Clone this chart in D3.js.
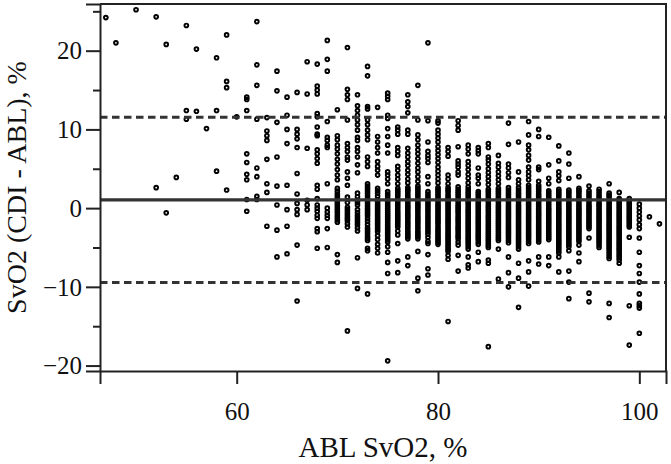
<!DOCTYPE html>
<html>
<head>
<meta charset="utf-8">
<script src="https://cdn.jsdelivr.net/npm/d3@7"></script>
<style>
  html, body { margin: 0; padding: 0; background: #fff; }
  svg { display: block; }
  text { font-family: "Liberation Serif", "Times New Roman", serif; fill: #111; }
</style>
</head>
<body>
<svg id="chart" width="671" height="464"></svg>
<script>
// ABL SvO2 columns (x, %) and the CDI - ABL differences observed at each
const ablColumns = [47,48,50,52,53,54,55,56,57,58,59,60,61,62,63,64,65,66,67,68,69,70,71,72,73,74,75,76,77,78,79,80,81,82,83,84,85,86,87,88,89,90,91,92,93,94,95,96,97,98,99,100,101,102];
const diffByColumn = [
  [24.2],
  [21.0],
  [25.2],
  [24.3, 2.6],
  [20.8, -0.6],
  [3.9],
  [23.2, 12.4, 11.3],
  [20.2, 12.3],
  [10.1],
  [19.1, 12.4, 4.7],
  [22.0, 16.1, 15.3, 2.3],
  [11.6],
  [14.1, 13.8, 12.4, 6.9, 5.8, 4.3, 3.6, 1.1, -0.4],
  [23.7, 18.2, 15.6, 11.3, 5.1, 4.0, 1.5, 1.1],
  [11.5, 9.8, 9.2, 8.6, 6.2, 3.1, 2.0, -2.3],
  [17.4, 14.9, 10.9, 6.5, 2.8, 0.4, -2.8, -6.2],
  [14.1, 11.8, 10.0, 8.2, 2.9, -0.2, -2.3, -5.8],
  [14.7, 10.0, 9.4, 8.8, 7.7, 4.4, 1.8, 0.6, -0.2, -0.8, -4.7, -11.8],
  [18.6, 14.5, 7.6, 1.0, 0.4, -0.2],
  [18.3, 15.5, 15.0, 14.5, 12.0, 11.6, 10.3, 9.4, 9.2, 7.4, 6.9, 6.3, 5.7, 2.9, 2.4, 1.2, 0.4, 0.0, -0.4, -0.9, -1.3, -2.6, -3.0, -5.1],
  [21.3, 18.9, 17.4, 11.0, 9.0, 8.6, 8.0, 7.7, 3.1, 0.0, -0.5, -0.9, -1.3, -2.6, -5.0],
  [12.5, 9.2, 8.7, 8.0, 7.5, 6.9, 6.2, 5.6, 4.9, 4.2, 3.6, 2.5, 1.8, 1.2, 0.6, 0.0, -0.6, -1.2, -1.8, -5.9, -6.9,
   2.15, 1.5, 0.9, 0.3, -0.3, -0.9, -1.5],
  [20.4, 15.1, 14.4, 13.8, 11.2, 8.2, 7.7, 7.2, 6.5, 6.1, 4.6, 3.8, 2.9, 1.4, 0.7, 0.1, -0.5, -1.1, -1.6, -2.4, -15.6,
   -0.2, -0.8, -1.35, -2.0],
  [14.4, 13.0, 12.4, 11.8, 11.2, 10.6, 9.9, 9.0, 8.6, 7.7, 7.2, 6.5, 5.5, 4.5, 1.9, 1.0, 0.4, -0.2, -0.9, -1.5, -2.1, -2.9, -6.3, -10.2,
   1.45, 0.7, -0.55, -1.2, -1.8, -2.5],
  [18.0, 16.8, 12.9, 12.6, 11.2, 10.6, 9.9, 9.3, 8.7, 6.5, 5.9, 5.3, 3.1, 2.5, 1.9, 1.2, 0.6, 0.0, -0.5, -1.0, -1.7, -2.5, -3.0, -3.6, -4.1, -5.1, -5.4, -10.9,
   2.8, 2.2, 1.55, 0.9, 0.3, -0.25, -0.75, -1.35, -2.1, -2.75, -3.3, -3.85],
  [12.8, 9.1, 8.4, 7.7, 7.0, 5.9, 5.3, 4.8, 4.2, 2.5, 1.9, 1.1, 0.5, 0.0, -0.5, -1.0, -1.5, -2.0, -2.5, -3.0, -4.6, -5.1, -5.7,
   2.2, 1.5, 0.8, 0.25, -0.25, -0.75, -1.25, -1.75, -2.25, -2.75, -3.5, -4.0],
  [14.6, 14.2, 13.8, 11.8, 11.4, 10.1, 9.1, 8.0, 7.0, 4.6, 4.2, 3.7, 3.1, 2.1, 1.5, 0.8, 0.2, -0.3, -0.8, -1.3, -1.8, -2.3, -2.8, -3.3, -3.8, -4.3, -4.9, -5.6, -6.9, -8.3, -19.4,
   1.8, 1.15, 0.5, -0.05, -0.55, -1.05, -1.55, -2.05, -2.55, -3.05, -3.55, -4.05],
  [10.3, 9.9, 9.4, 7.7, 7.2, 6.7, 5.3, 4.8, 4.2, 3.7, 3.1, 2.5, 2.0, 1.5, 0.8, 0.2, -0.4, -0.9, -1.4, -1.9, -2.4, -3.4, -4.5, -6.7, -8.2,
   2.25, 1.75, 1.15, 0.5, -0.1, -0.65, -1.15, -1.65, -2.15, -2.9],
  [14.4, 13.5, 12.9, 12.1, 9.9, 9.4, 7.6, 7.0, 6.5, 5.9, 5.4, 4.8, 4.3, 3.7, 3.2, 2.6, 2.1, 1.5, 1.0, 0.4, -0.1, -0.7, -1.2, -1.8, -2.3, -2.9, -3.4, -3.9, -6.2, -7.3,
   2.35, 1.8, 1.25, 0.7, 0.15, -0.4, -0.95, -1.5, -2.05, -2.6, -3.15, -3.65],
  [15.6, 11.2, 9.3, 8.7, 8.0, 7.4, 6.9, 6.3, 5.7, 5.1, 4.6, 4.0, 3.4, 2.8, 2.3, 1.7, 1.1, 0.5, 0.0, -0.6, -1.2, -1.7, -2.3, -2.9, -3.4, -3.9, -5.5, -8.9, -10.5,
   2.55, 2.0, 1.4, 0.8, 0.25, -0.3, -0.9, -1.45, -2.0, -2.6, -3.15, -3.65],
  [21.0, 11.1, 8.4, 7.2, 6.7, 6.3, 5.8, 4.0, 3.1, 2.1, 1.5, 0.9, 0.3, -0.3, -0.9, -1.5, -2.1, -2.7, -3.3, -4.2, -4.5, -5.9, -7.7, -8.5,
   1.8, 1.2, 0.6, 0.0, -0.6, -1.2, -1.8, -2.4, -3.0, -3.7],
  [11.1, 10.8, 9.9, 9.4, 8.9, 8.4, 7.8, 7.3, 6.8, 6.3, 5.8, 5.2, 4.7, 4.2, 3.7, 3.2, 2.6, 2.1, 1.6, 1.1, 0.5, 0.0, -0.5, -1.0, -1.5, -2.0, -2.6, -3.1, -3.6, -4.1, -4.6,
   2.35, 1.85, 1.35, 0.8, 0.25, -0.25, -0.75, -1.25, -1.75, -2.3, -2.85, -3.35, -3.85, -4.35],
  [7.7, 7.2, 6.6, 4.2, 3.7, 3.1, 2.6, 2.1, 1.5, 1.0, 0.5, 0.0, -0.5, -1.0, -1.5, -2.0, -2.5, -3.0, -3.5, -4.0, -4.5, -5.0, -5.5, -6.0, -6.5, -14.4,
   2.35, 1.8, 1.25, 0.75, 0.25, -0.25, -0.75, -1.25, -1.75, -2.25, -2.75, -3.25, -3.75, -4.25, -4.75, -5.25],
  [11.1, 10.5, 9.9, 7.8, 6.0, 5.6, 5.2, 4.6, 4.2, 2.7, 2.1, 1.6, 1.0, 0.4, -0.1, -0.6, -1.2, -1.7, -2.3, -2.8, -3.4, -3.9, -4.7, -6.0, -8.0,
   2.4, 1.85, 1.3, 0.7, 0.15, -0.35, -0.9, -1.45, -2.0, -2.55, -3.1, -3.65, -4.3],
  [8.0, 7.5, 6.9, 5.9, 5.4, 4.9, 4.3, 3.8, 3.2, 2.7, 2.1, 1.6, 1.0, 0.5, -0.1, -0.6, -1.1, -1.6, -2.1, -2.6, -3.1, -3.6, -4.1, -4.6, -5.2, -6.2, -7.2, -7.6,
   2.4, 1.85, 1.3, 0.75, 0.2, -0.35, -0.85, -1.35, -1.85, -2.35, -2.85, -3.35, -3.85, -4.35, -4.9],
  [7.7, 7.3, 6.9, 5.1, 4.2, 3.8, 3.1, 2.1, 1.6, 1.0, 0.5, 0.0, -0.5, -1.0, -1.5, -2.0, -2.5, -3.0, -3.5, -4.0, -4.6, -5.6, -6.8,
   1.85, 1.3, 0.75, 0.25, -0.25, -0.75, -1.25, -1.75, -2.25, -2.75, -3.25, -3.75, -4.3],
  [8.2, 7.7, 6.5, 6.1, 5.6, 5.0, 4.5, 4.0, 3.5, 3.0, 2.4, 1.9, 1.3, 0.8, 0.2, -0.3, -0.9, -1.4, -2.0, -2.5, -3.0, -3.5, -4.0, -4.5, -5.0, -6.6, -7.0, -17.6,
   2.15, 1.6, 1.05, 0.5, -0.05, -0.6, -1.15, -1.7, -2.25, -2.75, -3.25, -3.75, -4.25, -4.75],
  [6.7, 5.7, 5.2, 4.6, 4.1, 3.6, 3.1, 2.5, 2.0, 1.5, 1.0, 0.4, -0.1, -0.6, -1.1, -1.6, -2.1, -2.6, -3.1, -3.6, -4.1, -5.2, -9.0,
   2.25, 1.75, 1.25, 0.7, 0.15, -0.35, -0.85, -1.35, -1.85, -2.35, -2.85, -3.35, -3.85],
  [10.8, 8.1, 5.6, 5.1, 4.5, 3.9, 2.6, 2.0, 1.4, 0.8, 0.2, -0.3, -0.8, -1.3, -1.8, -2.3, -2.8, -3.3, -3.8, -4.4, -6.2, -8.2, -10.0,
   2.3, 1.7, 1.1, 0.5, -0.05, -0.55, -1.05, -1.55, -2.05, -2.55, -3.05, -3.55, -4.1],
  [8.4, 4.6, 3.6, 3.1, 2.6, 2.0, 1.5, 1.0, 0.4, -0.1, -0.6, -1.1, -1.6, -2.1, -2.6, -3.1, -3.6, -4.1, -4.6, -5.2, -7.0, -8.9, -12.6,
   2.3, 1.75, 1.25, 0.7, 0.15, -0.35, -0.85, -1.35, -1.85, -2.35, -2.85, -3.35, -3.85, -4.35, -4.9],
  [11.0, 9.3, 8.0, 7.4, 6.7, 6.1, 5.2, 4.6, 4.1, 3.6, 2.9, 2.3, 1.8, 1.2, 0.6, 0.1, -0.4, -0.9, -1.4, -1.9, -2.4, -2.9, -3.4, -3.9, -4.5, -6.7, -8.1, -9.9,
   2.6, 2.05, 1.5, 0.9, 0.35, -0.15, -0.65, -1.15, -1.65, -2.15, -2.65, -3.15, -3.65, -4.2],
  [10.0, 9.1, 5.2, 4.9, 3.4, 2.9, 2.4, 1.8, 1.3, 0.8, 0.2, -0.3, -0.8, -1.3, -1.8, -2.3, -2.8, -3.3, -3.8, -4.3, -6.2, -7.1,
   2.65, 2.1, 1.55, 1.05, 0.5, -0.05, -0.55, -1.05, -1.55, -2.05, -2.55, -3.05, -3.55, -4.05],
  [9.0, 5.5, 3.8, 3.1, 2.2, 1.7, 1.2, 0.6, 0.0, -0.5, -1.0, -1.5, -2.0, -2.5, -3.0, -3.5, -4.0, -6.2, -7.3,
   1.95, 1.45, 0.9, 0.3, -0.25, -0.75, -1.25, -1.75, -2.25, -2.75, -3.25, -3.75],
  [7.9, 6.0, 4.6, 4.1, 3.5, 2.4, 1.9, 1.4, 0.8, 0.3, -0.2, -0.7, -1.2, -1.7, -2.2, -2.7, -3.2, -3.7, -4.2, -4.7, -5.2, -5.7, -6.2, -8.1,
   2.15, 1.65, 1.1, 0.55, 0.05, -0.45, -0.95, -1.45, -1.95, -2.45, -2.95, -3.45, -3.95, -4.45, -4.95, -5.45],
  [7.0, 5.6, 3.8, 2.3, 1.8, 1.2, 0.6, 0.1, -0.4, -0.9, -1.4, -1.9, -2.4, -2.9, -3.4, -3.9, -4.4, -4.9, -5.4, -8.0, -9.4, -11.5,
   2.05, 1.5, 0.9, 0.35, -0.15, -0.65, -1.15, -1.65, -2.15, -2.65, -3.15, -3.65, -4.15, -4.65],
  [4.0, 2.5, 2.0, 1.4, 0.9, 0.3, -0.2, -0.7, -1.2, -1.7, -2.2, -2.7, -3.2, -3.7, -4.2, -4.7, -5.7, -6.8,
   2.25, 1.7, 1.15, 0.6, 0.05, -0.45, -0.95, -1.45, -1.95, -2.45, -2.95, -3.45, -3.95],
  [2.8, 2.2, 1.6, 1.0, 0.4, -0.1, -0.6, -1.1, -1.6, -2.1, -2.6, -3.8, -10.8, -11.9,
   1.9, 1.3, 0.7, 0.15, -0.35, -0.85, -1.35, -1.85, -2.35],
  [2.4, 1.8, 1.2, 0.6, 0.1, -0.4, -0.9, -1.4, -1.9, -2.4, -2.9, -3.4, -3.9, -4.4, -5.0,
   2.1, 1.5, 0.9, 0.35, -0.15, -0.65, -1.15, -1.65, -2.15, -2.65, -3.15, -3.65, -4.15, -4.7],
  [3.1, 1.9, 1.4, 0.8, 0.3, -0.2, -0.7, -1.2, -1.7, -2.2, -2.7, -3.2, -3.7, -4.2, -4.7, -5.2, -5.8, -6.4, -12.1, -13.9,
   1.65, 1.1, 0.55, 0.05, -0.45, -0.95, -1.45, -1.95, -2.45, -2.95, -3.45, -3.95, -4.45, -4.95, -5.5, -6.1],
  [2.0, 1.2, 0.7, 0.2, -0.3, -0.8, -1.3, -1.8, -2.3, -2.8, -3.3, -3.8, -4.3, -4.8, -5.3, -5.8, -6.3, -7.0,
   0.95, 0.45, -0.05, -0.55, -1.05, -1.55, -2.05, -2.55, -3.05, -3.55, -4.05, -4.55, -5.05, -5.55, -6.05, -6.6],
  [1.2, 0.6, 0.1, -0.4, -0.9, -1.4, -1.9, -2.4, -3.7, -12.4, -17.4,
   0.85, 0.35, -0.15, -0.65, -1.15, -1.65, -2.15],
  [0.5, 0.0, -0.5, -1.0, -1.5, -2.1, -2.6, -3.8, -5.6, -7.3, -8.3, -9.4, -10.9, -12.1, -12.4, -12.7, -15.9],
  [-1.1],
  [-2.0]
];
// Bias and limits of agreement
const meanBias = 1.05;
const limitsOfAgreement = [11.55, -9.45];
// Ticks and titles
const xTickValues = [60, 80, 100];
const yMajorTicks = [-20, -10, 0, 10, 20];
const yMinorTicks = [-15, -5, 5, 15, 25];
const xTitle = "ABL SvO2, %";
const yTitle = "SvO2 (CDI - ABL), %";

const svg = d3.select("#chart");
const W = 671, H = 464;
const m = { left: 100, right: 5, top: 4, bottom: 93 };
const x = d3.scaleLinear().domain([46.42, 102.65]).range([m.left, W - m.right]);
const y = d3.scaleLinear().domain([-20.69, 25.93]).range([H - m.bottom, m.top]);

const points = [];
ablColumns.forEach((c, i) => diffByColumn[i].forEach(d => points.push({ abl: c, diff: d })));

// points
svg.append("g")
  .selectAll("circle")
  .data(points)
  .join("circle")
  .attr("cx", d => x(d.abl))
  .attr("cy", d => y(d.diff))
  .attr("r", 1.85)
  .attr("fill", "none")
  .attr("stroke", "#000")
  .attr("stroke-width", 1.95);

// reference lines
const x0 = x.range()[0], x1 = x.range()[1];
svg.append("line")
  .attr("x1", x0).attr("x2", x1)
  .attr("y1", y(meanBias)).attr("y2", y(meanBias))
  .attr("stroke", "#333").attr("stroke-width", 3.2);
svg.selectAll("line.loa")
  .data(limitsOfAgreement)
  .join("line")
  .attr("class", "loa")
  .attr("x1", x0).attr("x2", x1)
  .attr("y1", d => y(d)).attr("y2", d => y(d))
  .attr("stroke", "#333").attr("stroke-width", 3)
  .attr("stroke-dasharray", "7.5,4.5");

// frame (top and right)
svg.append("path")
  .attr("d", `M${x0},${y.range()[1]}H${x1}V${y.range()[0]}`)
  .attr("fill", "none").attr("stroke", "#222").attr("stroke-width", 2);

// y axis
const yAxis = svg.append("g").attr("transform", `translate(${m.left},0)`);
yAxis.call(d3.axisLeft(y).tickValues(yMajorTicks).tickSize(14).tickPadding(4).tickFormat(d3.format("d")));
const yMinor = svg.append("g").attr("transform", `translate(${m.left},0)`);
yMinor.call(d3.axisLeft(y).tickValues(yMinorTicks).tickSize(7).tickFormat(""));
yMinor.select(".domain").remove();

// x axis
const xAxis = svg.append("g").attr("transform", `translate(0,${H - m.bottom})`);
xAxis.call(d3.axisBottom(x).tickValues(xTickValues).tickSize(13).tickPadding(18).tickFormat(d3.format("d")));

svg.selectAll(".domain").attr("stroke", "#222").attr("stroke-width", 2);
svg.selectAll(".tick line").attr("stroke", "#222").attr("stroke-width", 2);
svg.selectAll(".tick text")
  .attr("font-family", '"Liberation Serif", "Times New Roman", serif')
  .attr("font-size", 25).attr("fill", "#111");
yAxis.selectAll(".tick text").attr("dy", "0.33em");
xAxis.selectAll(".tick text").attr("dy", "0.71em");

// titles
svg.append("text")
  .attr("x", (x0 + x1) / 2).attr("y", 457)
  .attr("text-anchor", "middle")
  .attr("font-size", 29)
  .text(xTitle);
svg.append("text")
  .attr("transform", `translate(26,${(y.range()[0] + y.range()[1]) / 2}) rotate(-90)`)
  .attr("text-anchor", "middle")
  .attr("font-size", 28)
  .text(yTitle);
</script>
</body>
</html>
